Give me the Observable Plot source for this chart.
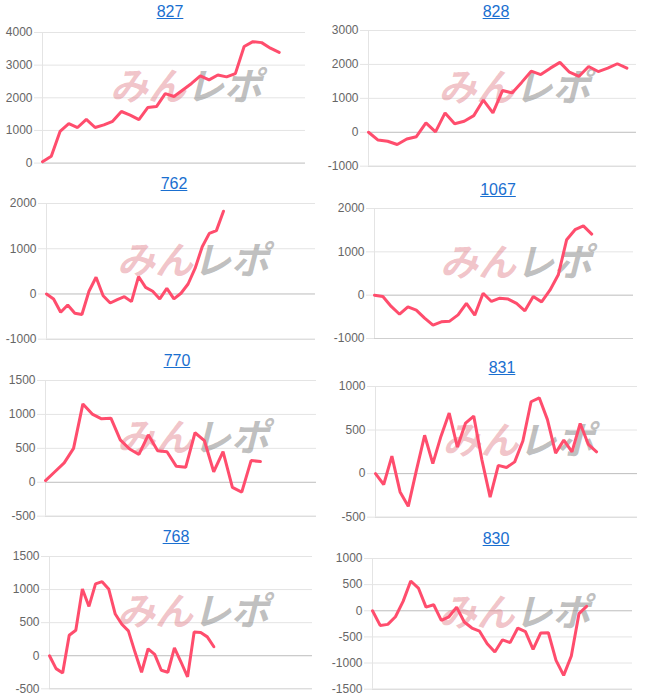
<!DOCTYPE html>
<html>
<head>
<meta charset="utf-8">
<script src="https://cdn.jsdelivr.net/npm/d3@7"></script>
<script src="https://cdn.jsdelivr.net/npm/@observablehq/plot@0.6"></script>
<style>
  html, body { margin: 0; padding: 0; background: #fff; }
  #root { position: relative; width: 645px; height: 699px; overflow: hidden; font-family: "Liberation Sans", Arial, sans-serif; }
  .ttl { position: absolute; width: 120px; text-align: center; font-size: 16px; line-height: 20px; color: #1a6fd0; text-decoration: underline; }
  #root svg { position: absolute; overflow: visible; }
</style>
</head>
<body>
<div id="root"></div>
<script>
// ---- data ----
const titles = ["827", "828", "762", "1067", "770", "831", "768", "830"];
const v827 = [40, 210, 970, 1210, 1090, 1340, 1090, 1170, 1280, 1580, 1470, 1330, 1700, 1730, 2130, 2040, 2240, 2440, 2670, 2550, 2700, 2640, 2740, 3570, 3720, 3690, 3520, 3390];
const v828 = [0, -230, -265, -360, -200, -130, 275, 10, 570, 250, 325, 490, 950, 570, 1230, 1160, 1470, 1800, 1700, 1890, 2060, 1770, 1650, 1940, 1790, 1890, 2020, 1890];
const v762 = [0, -110, -405, -245, -425, -455, 60, 370, -40, -200, -125, -60, -170, 385, 145, 60, -110, 125, -110, 15, 220, 570, 1045, 1340, 1400, 1830];
const v1067 = [0, -30, -260, -440, -270, -345, -530, -690, -615, -600, -455, -190, -460, 45, -145, -70, -90, -190, -360, -30, -155, 115, 470, 1280, 1510, 1600, 1410];
const v770 = [25, 155, 285, 500, 1155, 1005, 935, 945, 625, 490, 410, 700, 465, 450, 235, 220, 730, 615, 155, 450, -75, -145, 320, 305];
const v831 = [0, -125, 200, -210, -375, 40, 440, 115, 430, 695, 305, 580, 660, 155, -270, 95, 70, 135, 375, 825, 870, 620, 235, 385, 250, 575, 335, 250];
const v768 = [0, -195, -260, 310, 385, 1010, 745, 1085, 1120, 1010, 630, 475, 375, 55, -250, 105, 20, -220, -250, 120, -95, -320, 360, 350, 285, 135];
const v830 = [0, -280, -260, -115, 180, 570, 435, 70, 115, -185, -115, 70, -215, -330, -390, -630, -790, -555, -610, -330, -400, -740, -425, -420, -950, -1235, -865, -55, 85];
const seriesValues = [v827, v828, v762, v1067, v770, v831, v768, v830];
const xSlots = [31, 29, 39, 32, 30, 33, 41, 35];
const yDomains = [[0, 4000], [-1000, 3000], [-1000, 2000], [-1000, 2000], [-500, 1500], [-500, 1000], [-500, 1500], [-1500, 1000]];
const yStep = [1000, 1000, 1000, 1000, 500, 500, 500, 500];
const watermarkLeft = "みん";
const watermarkRight = "レポ";

// ---- layout (page pixels) ----
const frames = [
  {left: 42, right: 305, top: 31.7, bottom: 162.3, tx: 170, ty: 12},
  {left: 368, right: 636, top: 30, bottom: 165.7, tx: 496, ty: 12},
  {left: 46, right: 315, top: 203.3, bottom: 339, tx: 174, ty: 184},
  {left: 374, right: 633, top: 208.3, bottom: 338.3, tx: 498, ty: 190},
  {left: 45, right: 316, top: 380, bottom: 515.7, tx: 177, ty: 361},
  {left: 375, right: 637, top: 386, bottom: 516.7, tx: 502, ty: 368},
  {left: 49, right: 312, top: 556, bottom: 688.3, tx: 176, ty: 537},
  {left: 372, right: 632, top: 558.3, bottom: 689, tx: 496, ty: 539}
];

const root = document.getElementById("root");
const ML = 45, MR = 5, MT = 8, MB = 8;

titles.forEach((t, k) => {
  const f = frames[k];
  const title = document.createElement("a");
  title.className = "ttl";
  title.href = "#";
  title.textContent = t;
  title.style.left = (f.tx - 60) + "px";
  title.style.top = (f.ty - 10) + "px";
  root.appendChild(title);

  const [y0, y1] = yDomains[k];
  const ticks = d3.range(y0, y1 + 1, yStep[k]);
  const vals = seriesValues[k];
  const W = (f.right - f.left) + ML + MR;
  const H = (f.bottom - f.top) + MT + MB;

  const svg = Plot.plot({
    width: W,
    height: H,
    marginLeft: ML, marginRight: MR, marginTop: MT, marginBottom: MB,
    style: {fontFamily: "'Liberation Sans', Arial, sans-serif", fontSize: "12px", background: "transparent", color: "#666"},
    x: {domain: [0, xSlots[k] - 1], axis: null},
    y: {domain: [y0, y1], axis: null},
    marks: [
      Plot.ruleY(ticks.filter(d => d !== 0 && d !== y0), {stroke: "#e4e4e4", strokeWidth: 1}),
      Plot.ruleY(ticks.filter(d => d === y0 && d !== 0), {stroke: "#cfcfcf", strokeWidth: 1}),
      Plot.ruleY([0], {stroke: "#bdbdbd", strokeWidth: 1}),
      Plot.ruleX([0], {stroke: "#e4e4e4", strokeWidth: 1}),
      Plot.axisY({ticks: ticks, tickSize: 8, tickPadding: 2, stroke: "#e4e4e4", fill: "#666", tickFormat: d => String(d), fontSize: 12}),
      Plot.text([watermarkLeft], {text: d => d, frameAnchor: "middle", textAnchor: "end", dx: 12, dy: -10,
        fontSize: 38, fontWeight: "bold", fontStyle: "italic", fontFamily: "'Noto Sans CJK JP', sans-serif",
        fill: "#e07c86", fillOpacity: 0.45}),
      Plot.text([watermarkRight], {text: d => d, frameAnchor: "middle", textAnchor: "start", dx: 12, dy: -10,
        fontSize: 38, fontWeight: "bold", fontStyle: "italic", fontFamily: "'Noto Sans CJK JP', sans-serif",
        fill: "#8a8a8a", fillOpacity: 0.55}),
      Plot.line(vals, {x: (d, i) => i, y: d => d, stroke: "#ff4d6d", strokeWidth: 3, strokeLinejoin: "miter"})
    ]
  });
  svg.style.left = (f.left - ML) + "px";
  svg.style.top = (f.top - MT) + "px";
  root.appendChild(svg);
});
</script>
</body>
</html>
